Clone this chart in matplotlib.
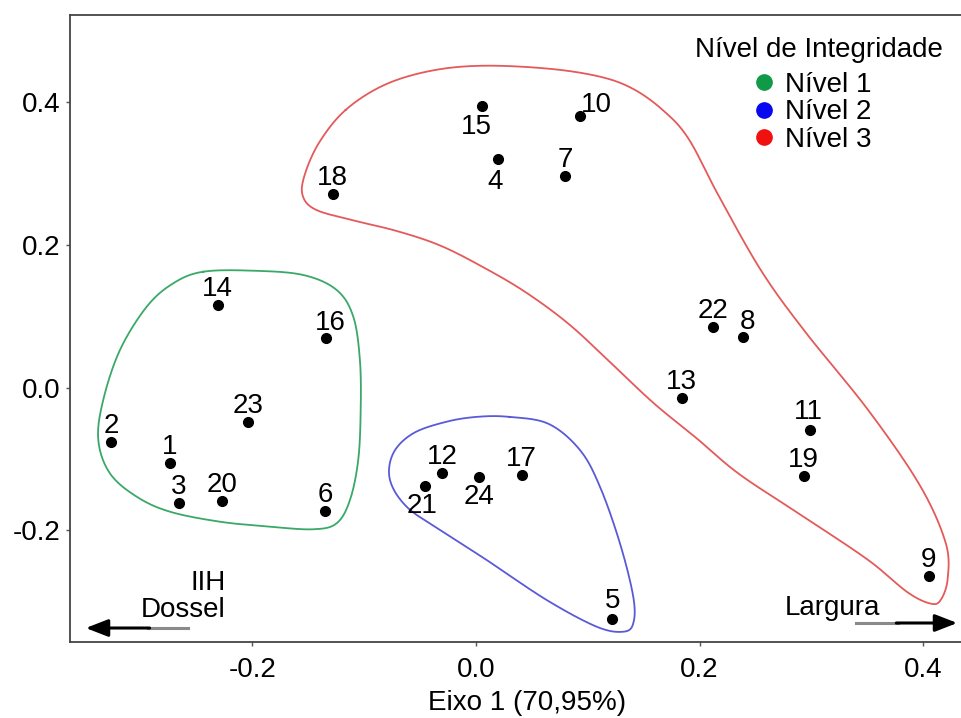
import numpy as np
import matplotlib
matplotlib.use("Agg")
import matplotlib.pyplot as plt
from matplotlib.lines import Line2D

plt.rcParams['font.family'] = ['Liberation Sans', 'DejaVu Sans']

# ---------------------------------------------------------------
#  scores (Eixo 1 x Eixo 2), sites 1..24
# ---------------------------------------------------------------
site_ids = list(range(1, 25))
eixo1 = [-0.274, -0.326, -0.266, 0.020, 0.122, -0.135, 0.080, 0.239,
         0.405, 0.093, 0.299, -0.030, 0.184, -0.231, 0.005, -0.134,
         0.041, -0.128, 0.293, -0.227, -0.046, 0.212, -0.204, 0.003]
eixo2 = [-0.106, -0.076, -0.162, 0.320, -0.325, -0.173, 0.297, 0.071,
         -0.264, 0.381, -0.059, -0.120, -0.015, 0.115, 0.395, 0.069,
         -0.123, 0.271, -0.124, -0.159, -0.138, 0.085, -0.048, -0.125]

niveis = ['Nível 1', 'Nível 2', 'Nível 3']
cores = ['#109a48', '#0808f0', '#f01010']
cores_linha = ['#3aa868', '#5a5ad8', '#e45a5a']

# outlines drawn around each group (hand traced)
contorno1_x = [-0.2439, -0.1992, -0.1545, -0.1246, -0.1097, -0.1038, -0.1031,
               -0.1053, -0.1127, -0.1246, -0.1455, -0.1843, -0.2290, -0.2737,
               -0.3035, -0.3274, -0.3378, -0.3334, -0.3184, -0.2945, -0.2708]
contorno1_y = [0.1623, 0.1637, 0.1577, 0.1367, 0.0992, 0.0385, -0.0315,
               -0.1016, -0.1577, -0.1903, -0.1987, -0.1951, -0.1881, -0.1741,
               -0.1530, -0.1203, -0.0736, -0.0175, 0.0526, 0.1132, 0.1460]
contorno2_x = [0.0300, 0.0650, 0.0930, 0.1109, 0.1288, 0.1407, 0.1407, 0.1318,
               0.1080, 0.0632, 0.0096, -0.0322, -0.0620, -0.0769, -0.0740,
               -0.0561, -0.0262, 0.0020]
contorno2_y = [-0.0412, -0.0510, -0.0876, -0.1390, -0.2184, -0.2932, -0.3305,
               -0.3423, -0.3353, -0.2978, -0.2418, -0.1997, -0.1671, -0.1296,
               -0.0922, -0.0642, -0.0479, -0.0410]
contorno3_x = [-0.1166, -0.082, -0.040, 0.006, 0.064, 0.110, 0.140, 0.167,
               0.190, 0.217, 0.255, 0.294, 0.351, 0.397, 0.420, 0.422, 0.416,
               0.407, 0.386, 0.351, 0.294, 0.236, 0.198, 0.159, 0.121, 0.083,
               0.044, 0.006, -0.032, -0.070, -0.109, -0.143, -0.155, -0.153,
               -0.140]
contorno3_y = [0.389, 0.424, 0.444, 0.451, 0.447, 0.436, 0.419, 0.389, 0.349,
               0.269, 0.164, 0.079, -0.032, -0.137, -0.217, -0.267, -0.297,
               -0.303, -0.287, -0.242, -0.182, -0.122, -0.072, -0.022, 0.034,
               0.089, 0.134, 0.169, 0.199, 0.219, 0.234, 0.249, 0.269, 0.299,
               0.344]

# label offsets in points (dx, dy, va); default is just above the point
desloc = {4: (-2, -7, 'top'), 15: (-4, -6, 'top'), 21: (-1.5, -5, 'top'),
          24: (0, -5, 'top'), 8: (3, 6, 'baseline'), 16: (3, 6, 'baseline'),
          5: (0, 8.5, 'baseline'), 11: (-1.5, 7.5, 'baseline')}


def curva_fechada(xs, ys, n=24):
    P = np.column_stack([xs, ys])
    N = len(P)
    t = np.linspace(0, 1, n, endpoint=False)[:, None]
    pedacos = []
    for i in range(N):
        p0, p1, p2, p3 = P[i - 1], P[i], P[(i + 1) % N], P[(i + 2) % N]
        pedacos.append(0.5 * (2 * p1 + (-p0 + p2) * t
                              + (2 * p0 - 5 * p1 + 4 * p2 - p3) * t ** 2
                              + (-p0 + 3 * p1 - 3 * p2 + p3) * t ** 3))
    c = np.vstack(pedacos)
    c = np.vstack([c, c[:1]])
    return c[:, 0], c[:, 1]


fig = plt.figure(figsize=(9.62, 7.18), dpi=100)
ax = fig.add_axes([70 / 962, 76 / 718, 915 / 962, 627 / 718])

for cx, cy, cl in [(contorno1_x, contorno1_y, cores_linha[0]),
                   (contorno2_x, contorno2_y, cores_linha[1]),
                   (contorno3_x, contorno3_y, cores_linha[2])]:
    sx, sy = curva_fechada(cx, cy)
    ax.plot(sx, sy, color=cl, lw=1.3)

ax.plot(eixo1, eixo2, 'o', color='black', markersize=7, linestyle='')

for i, xi, yi in zip(site_ids, eixo1, eixo2):
    if i == 10:
        ax.annotate(str(i), (xi, yi), xytext=(1, 3), textcoords='offset points',
                    ha='left', va='baseline', fontsize=20)
        continue
    dx, dy, va = desloc.get(i, (0, 6.5, 'baseline'))
    ax.annotate(str(i), (xi, yi), xytext=(dx, dy), textcoords='offset points',
                ha='center', va=va, fontsize=20)

ax.set_xlim(-0.3631, 0.4553)
ax.set_ylim(-0.3567, 0.5221)
ax.set_xticks([-0.2, 0.0, 0.2, 0.4])
ax.set_yticks([-0.2, 0.0, 0.2, 0.4])
ax.set_xticklabels(['-0.2', '0.0', '0.2', '0.4'])
ax.set_yticklabels(['-0.2', '0.0', '0.2', '0.4'])
ax.tick_params(axis='both', labelsize=20, length=3, width=1, color='#555555')
ax.tick_params(axis='x', pad=8)
ax.tick_params(axis='y', pad=4)
for s in ax.spines.values():
    s.set_color('#444444')
    s.set_linewidth(1.3)
ax.set_xlabel('Eixo 1 (70,95%)', fontsize=20, labelpad=5)

# arrows at the bottom
ax.plot([0.129, 0.085], [0.0223, 0.0223], transform=ax.transAxes, color='#8a8a8a', lw=2.2)
ax.annotate('', xy=(0.0142, 0.0223), xytext=(0.09, 0.0223), xycoords='axes fraction',
            arrowprops=dict(arrowstyle='-|>,head_length=0.9,head_width=0.35',
                            color='black', lw=2.2, mutation_scale=15))
ax.plot([0.859, 0.905], [0.0303, 0.0303], transform=ax.transAxes, color='#8a8a8a', lw=2.2)
ax.annotate('', xy=(0.9727, 0.0303), xytext=(0.90, 0.0303), xycoords='axes fraction',
            arrowprops=dict(arrowstyle='-|>,head_length=0.9,head_width=0.35',
                            color='black', lw=2.2, mutation_scale=15))
ax.text(0.170, 0.0829, 'IIH', transform=ax.transAxes, ha='right', va='baseline', fontsize=20)
ax.text(0.170, 0.0404, 'Dossel', transform=ax.transAxes, ha='right', va='baseline', fontsize=20)
ax.text(0.781, 0.0431, 'Largura', transform=ax.transAxes, ha='left', va='baseline', fontsize=20)

# legend: title as text, entries centred below it
ax.text(0.8186, 0.944, 'Nível de Integridade', transform=ax.transAxes,
        ha='center', va='center', fontsize=20)
handles = [Line2D([], [], marker='o', linestyle='', color=c, markersize=11) for c in cores]
ax.legend(handles, niveis, loc='upper center', bbox_to_anchor=(0.813, 0.909),
          frameon=False, fontsize=20, handlelength=0.6, handletextpad=0.45,
          labelspacing=0.05, borderpad=0, borderaxespad=0)

fig.savefig('out.png', dpi=100)
